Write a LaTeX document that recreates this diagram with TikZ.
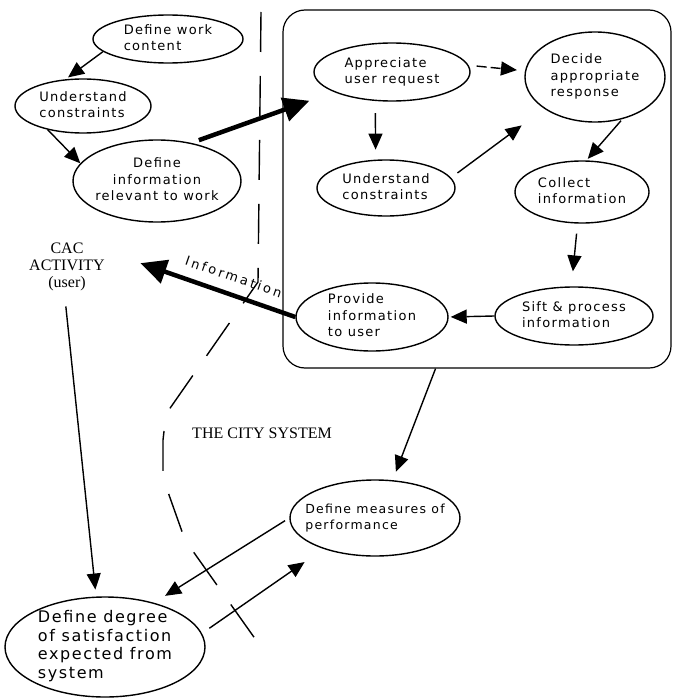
\documentclass[tikz,border=0pt]{standalone}
\usepackage{fontspec}
\setmainfont{Liberation Serif}
\newfontfamily\ovalfont[LetterSpace=10]{DejaVu Sans}
\newfontfamily\tagfont[LetterSpace=20]{DejaVu Sans}
\usetikzlibrary{shapes.geometric,arrows.meta}
\newcommand\leftlines[1]{\begin{tabular}{@{}l@{}}#1\end{tabular}}
\newcommand\midlines[1]{\begin{tabular}{@{}c@{}}#1\end{tabular}}

\begin{document}
\begin{tikzpicture}[x=1pt,y=-1pt,
    oval/.style={ellipse,draw,line width=1.4pt,inner sep=-12pt,
        font=\ovalfont\fontsize{13}{16.5}\selectfont},
    textlabel/.style={align=center,font=\fontsize{16}{17}\selectfont},
    arr/.style={line width=1.4pt,-{Triangle[length=16pt,width=14pt]}},
    bigarr/.style={line width=4.5pt,-{Triangle[length=26pt,width=24pt]}},
    boundary/.style={line width=1.4pt,dash pattern=on 40pt off 24pt}]
    \useasboundingbox (0,0) rectangle (673,698);
    \node[draw,rounded corners=22pt,line width=1.2pt,minimum width=388pt,minimum height=358pt] (citybox) at (477,189) {};
    \node[oval,minimum width=150pt,minimum height=48pt] (work) at (168,39) {\leftlines{Define work\\content}};
    \node[oval,minimum width=136pt,minimum height=54pt] (und1) at (83,106) {\leftlines{Understand\\constraints}};
    \node[oval,minimum width=168pt,minimum height=82pt] (info) at (157,181) {\midlines{Define\\information\\relevant to work}};
    \node[oval,minimum width=156pt,minimum height=58pt] (appr) at (392,72) {\leftlines{Appreciate\\user request}};
    \node[oval,minimum width=140pt,minimum height=90pt] (decide) at (595,77) {\leftlines{Decide\\appropriate\\response}};
    \node[oval,minimum width=138pt,minimum height=56pt] (und2) at (386,188) {\leftlines{Understand\\constraints}};
    \node[oval,minimum width=134pt,minimum height=62pt] (collect) at (582,192) {\leftlines{Collect\\information}};
    \node[oval,minimum width=158pt,minimum height=58pt] (sift) at (574,316) {\leftlines{Sift \& process\\information}};
    \node[oval,minimum width=152pt,minimum height=68pt] (provide) at (372,317) {\leftlines{Provide\\information\\to user}};
    \node[oval,minimum width=170pt,minimum height=76pt,font=\ovalfont\fontsize{12.5}{16}\selectfont] (measures) at (375,518) {\leftlines{Define measures of\\performance}};
    \node[oval,minimum width=200pt,minimum height=100pt,font=\ovalfont\fontsize{16}{18.5}\selectfont] (degree) at (105,647) {\leftlines{Define degree\\of satisfaction\\expected from\\system}};
    \node[textlabel] (cac) at (67,267) {CAC\\ACTIVITY\\(user)};
    \node[textlabel] (city) at (262,433) {THE CITY SYSTEM};

    \draw[boundary] (261,12) -- (258,282) -- (166,414) -- (163,440) -- (163,478) -- (185,540) -- (256,640);

    \draw[arr,shorten >=3pt] (work.191) -- (und1.123);
    \draw[arr] (und1.214) -- (info.167);
    \draw[bigarr,shorten <=8pt,shorten >=26pt] (info.48) -- (appr.199);
    \draw[arr,dash pattern=on 10pt off 4pt,shorten <=8pt,shorten >=8pt] (appr.5) -- (decide.175);
    \draw[arr,shorten <=12pt,shorten >=10pt] (appr.240) -- (und2.110);
    \draw[arr,shorten <=8pt,shorten >=28pt] (und2.9) -- (decide.212);
    \draw[arr,shorten <=2pt,shorten >=2pt] (decide.303) -- (collect.82);
    \draw[arr,shorten <=10pt,shorten >=15pt] (collect.262) -- (sift.95);
    \draw[arr,shorten >=2pt] (sift.west) -- (provide.east);
    \draw[bigarr,shorten >=34pt] (provide.west) -- node[pos=0.36,sloped,above=7pt,font=\tagfont\fontsize{13}{14}\selectfont] (infolabel) {Information} (cac.20);
    \draw[arr,shorten <=12pt,shorten >=7pt] (cac.265) -- (degree.100);
    \draw[arr,shorten >=9pt] (citybox.257) -- (measures.65);
    \draw[arr,shorten <=5pt,shorten >=13pt] (measures.west) -- (degree.42);
    \draw[arr,shorten <=9pt,shorten >=23pt] (degree.8) -- (measures.211);
\end{tikzpicture}
\end{document}
